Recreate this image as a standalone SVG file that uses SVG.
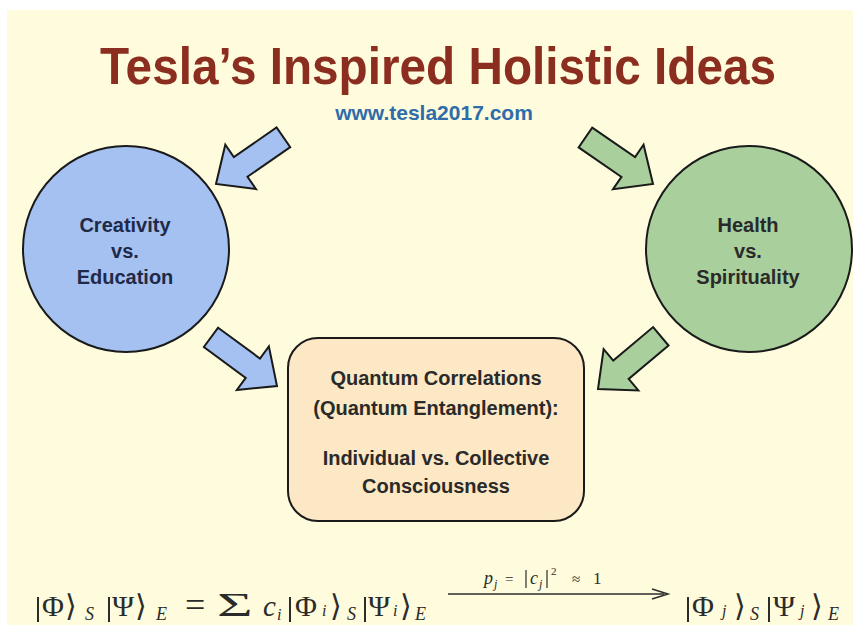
<svg xmlns="http://www.w3.org/2000/svg" width="853" height="625" viewBox="0 0 853 625">
<defs>
<style>
.title{font-family:"Liberation Sans",Arial,sans-serif;font-weight:bold;font-size:52px;fill:#8B2D1F;text-anchor:middle}
.url{font-family:"Liberation Sans",Arial,sans-serif;font-weight:bold;font-size:21px;fill:#2F6CAA;text-anchor:middle}
.lbl{font-family:"Liberation Sans",Arial,sans-serif;font-weight:bold;font-size:20px;text-anchor:middle}
.arrow{stroke:#1a1a1a;stroke-width:2;stroke-linejoin:miter}
.blue{fill:#A5C1F1}
.green{fill:#A8CF9C}
.m{font-family:"Liberation Serif","Times New Roman",serif;fill:#2b2b2b}
.mi{font-family:"Liberation Serif","Times New Roman",serif;font-style:italic;fill:#2b2b2b}
.bar{stroke:#2b2b2b;stroke-width:2}
.br{font-family:"DejaVu Serif",serif;fill:#2b2b2b}
</style>
<path id="arr" d="M-82,-12 H-30 V-27 L0,0 L-30,27 V12 H-82 Z"/>
</defs>
<rect x="0" y="0" width="853" height="625" fill="#ffffff"/>
<rect x="7" y="10" width="846" height="615" fill="#FEFCDD"/>

<g id="title">
<text class="title" x="438" y="84" textLength="676" lengthAdjust="spacingAndGlyphs">Tesla’s Inspired Holistic Ideas</text>
<text class="url" x="434" y="120">www.tesla2017.com</text>
</g>

<g id="connectors">
<use href="#arr" class="arrow blue" transform="translate(216,184) rotate(145.3)"/>
<use href="#arr" class="arrow blue" transform="translate(277,386) rotate(36.4)"/>
<use href="#arr" class="arrow green" transform="translate(653,184) rotate(34.5)"/>
<use href="#arr" class="arrow green" transform="translate(598,389) rotate(140)"/>
</g>

<g id="creativity">
<circle cx="126" cy="249" r="103" class="blue" stroke="#1a1a1a" stroke-width="2"/>
<text class="lbl" x="125" y="232" fill="#1E2A48">Creativity</text>
<text class="lbl" x="125" y="258" fill="#1E2A48">vs.</text>
<text class="lbl" x="125" y="284" fill="#1E2A48">Education</text>
</g>

<g id="health">
<circle cx="749" cy="249" r="103" class="green" stroke="#1a1a1a" stroke-width="2"/>
<text class="lbl" x="748" y="232" fill="#2a2a2a">Health</text>
<text class="lbl" x="748" y="258" fill="#2a2a2a">vs.</text>
<text class="lbl" x="748" y="284" fill="#2a2a2a">Spirituality</text>
</g>

<g id="quantum">
<rect x="288" y="338" width="296" height="183" rx="30" ry="30" fill="#FCE8C4" stroke="#1a1a1a" stroke-width="2"/>
<text class="lbl" x="436" y="385" fill="#2a2a2a">Quantum Correlations</text>
<text class="lbl" x="436" y="415" fill="#2a2a2a">(Quantum Entanglement):</text>
<text class="lbl" x="436" y="465" fill="#2a2a2a">Individual vs. Collective</text>
<text class="lbl" x="436" y="493" fill="#2a2a2a">Consciousness</text>
</g>

<g id="equation">
<line class="bar" x1="38" y1="597" x2="38" y2="622"/>
<text class="m" x="42" y="616" style="font-size:30px">Φ</text>
<text class="br" x="65" y="616" style="font-size:30px">⟩</text>
<text class="mi" x="85" y="620" style="font-size:18px">S</text>
<line class="bar" x1="109" y1="597" x2="109" y2="622"/>
<text class="m" x="112" y="616" style="font-size:30px">Ψ</text>
<text class="br" x="135" y="616" style="font-size:30px">⟩</text>
<text class="mi" x="156" y="620" style="font-size:18px">E</text>
<text class="m" x="185" y="617" style="font-size:36px">=</text>
<text class="m" transform="translate(217,616) scale(1.8,1)" style="font-size:34px">Σ</text>
<text class="mi" x="263" y="616" style="font-size:29px">c</text>
<text class="mi" x="277" y="620" style="font-size:16px">i</text>
<line class="bar" x1="290" y1="597" x2="290" y2="622"/>
<text class="m" x="295" y="616" style="font-size:30px">Φ</text>
<text class="mi" x="322" y="616" style="font-size:16px">i</text>
<text class="br" x="330" y="616" style="font-size:30px">⟩</text>
<text class="mi" x="347" y="620" style="font-size:18px">S</text>
<line class="bar" x1="365" y1="597" x2="365" y2="622"/>
<text class="m" x="368" y="616" style="font-size:30px">Ψ</text>
<text class="mi" x="393" y="616" style="font-size:16px">i</text>
<text class="br" x="400" y="616" style="font-size:30px">⟩</text>
<text class="mi" x="415" y="620" style="font-size:18px">E</text>

<line class="bar" x1="448" y1="594" x2="664" y2="594" style="stroke-width:1.5"/>
<path d="M652,589 L668,594 L652,599" fill="none" stroke="#2b2b2b" stroke-width="1.5"/>
<text class="mi" x="484" y="584" style="font-size:18px">p</text>
<text class="mi" x="494" y="588" style="font-size:12px">j</text>
<text class="m" x="505" y="584" style="font-size:15px">=</text>
<line class="bar" x1="526" y1="570" x2="526" y2="588" style="stroke-width:1.2"/>
<text class="mi" x="530" y="584" style="font-size:18px">c</text>
<text class="mi" x="539" y="588" style="font-size:12px">j</text>
<line class="bar" x1="547" y1="570" x2="547" y2="588" style="stroke-width:1.2"/>
<text class="m" x="551" y="575" style="font-size:11px">2</text>
<text class="m" x="572" y="584" style="font-size:15px">≈</text>
<text class="m" x="593" y="584" style="font-size:17px">1</text>

<line class="bar" x1="688" y1="597" x2="688" y2="622"/>
<text class="m" x="692" y="616" style="font-size:30px">Φ</text>
<text class="mi" x="722" y="616" style="font-size:16px">j</text>
<text class="br" x="734" y="616" style="font-size:30px">⟩</text>
<text class="mi" x="750" y="620" style="font-size:18px">S</text>
<line class="bar" x1="769" y1="597" x2="769" y2="622"/>
<text class="m" x="773" y="616" style="font-size:30px">Ψ</text>
<text class="mi" x="800" y="616" style="font-size:16px">j</text>
<text class="br" x="811" y="616" style="font-size:30px">⟩</text>
<text class="mi" x="828" y="620" style="font-size:18px">E</text>
</g>
</svg>
